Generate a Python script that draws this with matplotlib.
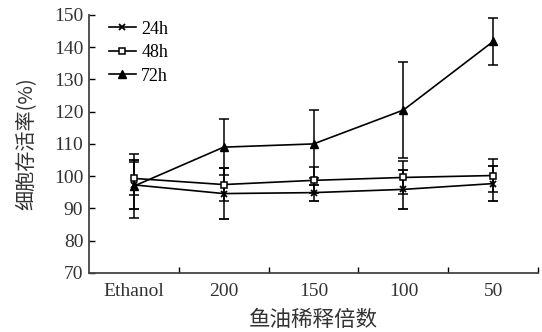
import matplotlib
matplotlib.use("Agg")
import matplotlib.pyplot as plt
from matplotlib.lines import Line2D

# data
groups = ["Ethanol", "200", "150", "100", "50"]
v24 = [97.3, 94.6, 94.9, 95.9, 97.7]
e24 = [7.6, 7.8, 2.5, 6.0, 5.5]
v48 = [99.3, 97.4, 98.7, 99.6, 100.2]
e48 = [5.0, 5.0, 4.0, 5.0, 5.0]
v72 = [96.9, 109.0, 110.0, 120.5, 141.8]
e72 = [10.0, 8.7, 10.5, 15.0, 7.2]

serif = ["Liberation Serif", "DejaVu Serif"]
cjk = ["Noto Sans CJK SC", "DejaVu Sans"]
ink = "#333333"

fig = plt.figure(figsize=(5.42, 3.32), dpi=100)
ax = fig.add_axes([0.164, 0.178, 0.829, 0.777])

x = list(range(len(groups)))
styles = [
    ("24h", v24, e24, dict(marker="x", ms=5, mew=1.3)),
    ("48h", v48, e48, dict(marker="s", ms=5, mfc="white", mew=1.1)),
    ("72h", v72, e72, dict(marker="^", ms=6)),
]
handles = []
for name, v, e, kw in styles:
    ax.errorbar(x, v, yerr=e, color="black", lw=1.2, capsize=3.5,
                elinewidth=1.1, capthick=1.1, **kw)
    handles.append(Line2D([], [], color="black", lw=1.2, label=name, **kw))

ax.set_xlim(-0.5, 4.5)
ax.set_ylim(70, 150)
ax.set_yticks(range(70, 151, 10))
ax.set_xticks([i + 0.5 for i in x])
ax.set_xticklabels([])
ax.set_xticks(x, minor=True)
ax.set_xticklabels(groups, minor=True, fontfamily=serif, fontsize=14,
                   color=ink)
ax.tick_params(axis="x", which="minor", length=0, pad=7)
ax.tick_params(axis="both", which="major", direction="in", length=4,
               width=1, labelsize=14, labelcolor=ink, pad=4)
for lab in ax.get_yticklabels():
    lab.set_fontfamily(serif)
ax.spines["top"].set_visible(False)
ax.spines["right"].set_visible(False)
for s in ("left", "bottom"):
    ax.spines[s].set_color("#444444")
    ax.spines[s].set_linewidth(1.3)

ax.set_ylabel("细胞存活率(%)", fontfamily=cjk, fontsize=14.5, color=ink,
              labelpad=12)
ax.set_xlabel("鱼油稀释倍数", fontfamily=cjk, fontsize=15.5, color=ink,
              labelpad=7)

ax.legend(handles=handles, loc="upper left", bbox_to_anchor=(0.04, 0.985),
          frameon=False, handlelength=1.5, handletextpad=0.3,
          labelspacing=0.36, borderaxespad=0, borderpad=0.1,
          prop={"family": serif, "size": 13})

fig.savefig("out.png", dpi=100)
